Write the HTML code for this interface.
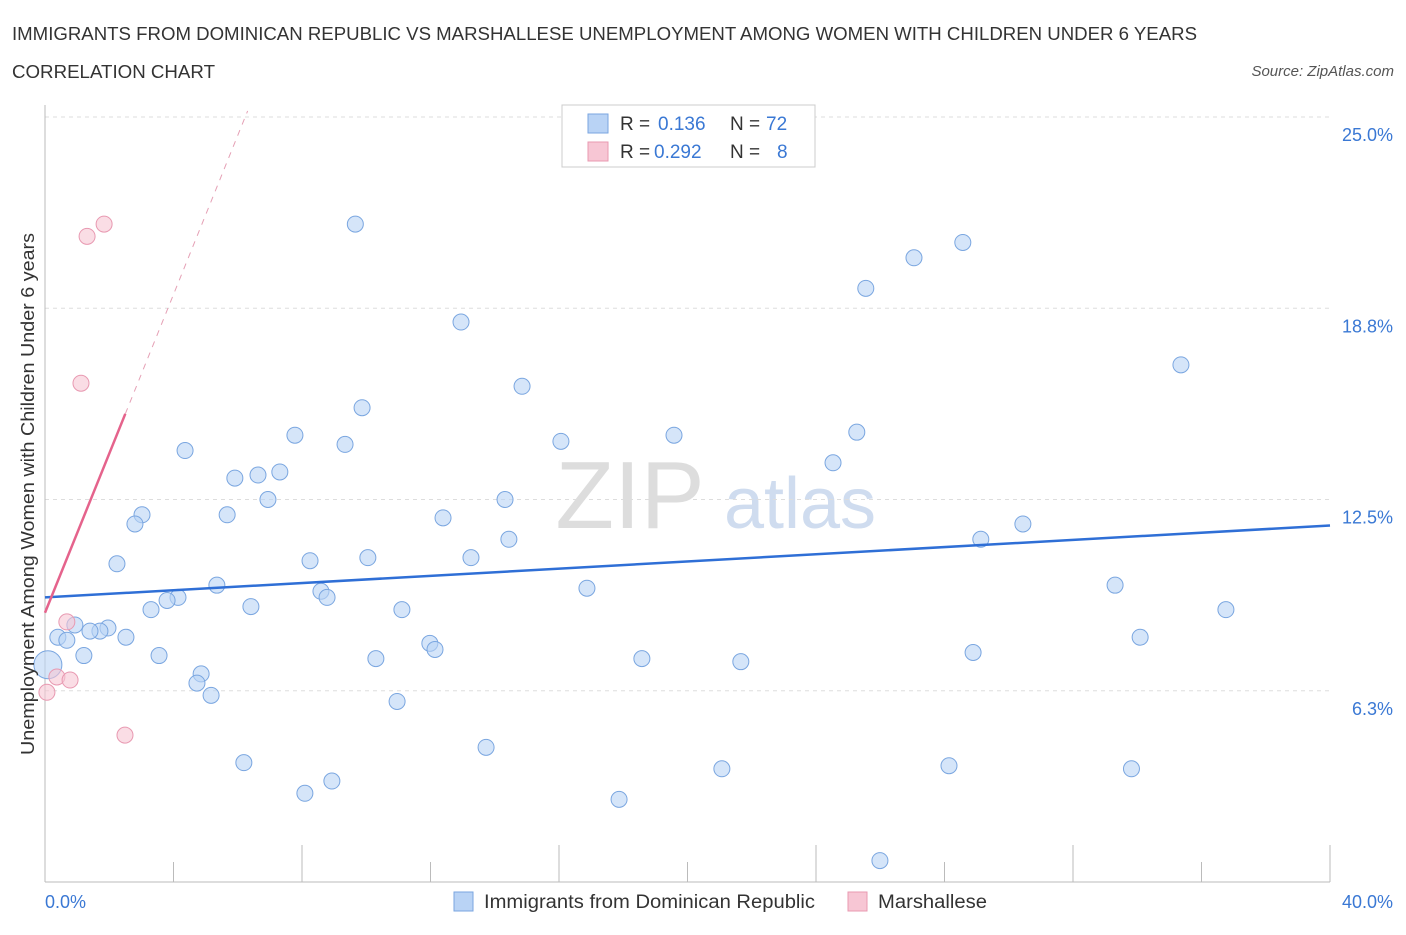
<!DOCTYPE html>
<html><head><meta charset="utf-8"><style>
body{margin:0;background:#fff;font-family:"Liberation Sans",sans-serif;}
svg text{font-family:"Liberation Sans",sans-serif;}
</style></head><body>
<svg id="chart" width="1406" height="930">
<text x="12" y="40" font-size="18" fill="#333" textLength="1185" lengthAdjust="spacingAndGlyphs">IMMIGRANTS FROM DOMINICAN REPUBLIC VS MARSHALLESE UNEMPLOYMENT AMONG WOMEN WITH CHILDREN UNDER 6 YEARS</text>
<text x="12" y="78" font-size="18" fill="#333" textLength="203" lengthAdjust="spacingAndGlyphs">CORRELATION CHART</text>
<text x="1394" y="76" font-size="15" fill="#555" font-style="italic" text-anchor="end">Source: ZipAtlas.com</text>
<text x="630" y="528" font-size="96" fill="#ddd" font-family="Liberation Serif" text-anchor="middle">ZIP</text>
<text x="800" y="528" font-size="72" fill="#cfdcef" text-anchor="middle">atlas</text>
<g id="grid"></g><g id="pts"></g><g id="lines"></g>
<text transform="translate(34,494) rotate(-90)" font-size="18" fill="#333" text-anchor="middle" textLength="522" lengthAdjust="spacingAndGlyphs">Unemployment Among Women with Children Under 6 years</text>
<g>
<rect x="562" y="105" width="253" height="62" fill="#fff" stroke="#ccc"/>
<rect x="588" y="114" width="20" height="19" fill="#b9d3f5" stroke="#7aa6e0"/>
<rect x="588" y="142" width="20" height="19" fill="#f7c6d4" stroke="#e899b1"/>
<text x="620" y="130" font-size="19" fill="#333">R =</text>
<text x="658" y="130" font-size="19" fill="#3a78d4">0.136</text>
<text x="730" y="130" font-size="19" fill="#333">N =</text>
<text x="766" y="130" font-size="19" fill="#3a78d4">72</text>
<text x="620" y="158" font-size="19" fill="#333">R =</text>
<text x="654" y="158" font-size="19" fill="#3a78d4">0.292</text>
<text x="730" y="158" font-size="19" fill="#333">N =</text>
<text x="777" y="158" font-size="19" fill="#3a78d4">8</text>
</g>
<g>
<rect x="454" y="892" width="19" height="19" fill="#b9d3f5" stroke="#7aa6e0"/>
<text x="484" y="908" font-size="19" fill="#333" textLength="331" lengthAdjust="spacingAndGlyphs">Immigrants from Dominican Republic</text>
<rect x="848" y="892" width="19" height="19" fill="#f7c6d4" stroke="#e899b1"/>
<text x="878" y="908" font-size="19" fill="#333" textLength="109" lengthAdjust="spacingAndGlyphs">Marshallese</text>
</g>
</svg>
<script>
const blueX=[9.66,28.57,27.05,25.55,12.95,35.36,14.85,9.87,7.78,19.58,16.06,25.27,9.34,4.36,24.53,7.31,6.63,5.91,6.94,14.32,3.02,5.67,12.39,2.80,30.44,14.44,29.13,8.25,10.05,13.26,2.24,5.35,16.87,33.31,8.59,8.78,4.14,3.80,6.41,11.11,3.30,36.76,0.93,1.96,1.71,1.40,2.52,0.40,0.68,34.09,11.98,12.14,28.89,1.21,3.55,10.30,18.58,21.66,4.86,4.73,5.17,10.96,13.73,6.19,28.14,21.07,33.82,8.93,8.09,17.87,25.99,0.09];
const blueY=[21.5,20.9,20.4,19.4,18.3,16.9,16.2,15.5,14.6,14.6,14.4,14.7,14.3,14.1,13.7,13.4,13.3,13.2,12.5,12.5,12.0,12.0,11.9,11.7,11.7,11.2,11.2,10.5,10.6,10.6,10.4,9.7,9.6,9.7,9.5,9.3,9.3,9.2,9.0,8.9,8.9,8.9,8.4,8.3,8.2,8.2,8.0,8.0,7.9,8.0,7.8,7.6,7.5,7.4,7.4,7.3,7.3,7.2,6.8,6.5,6.1,5.9,4.4,3.9,3.8,3.7,3.7,3.3,2.9,2.7,0.7,7.1];
const pinkX=[1.84,1.31,1.12,0.68,0.37,0.78,0.06,2.49];
const pinkY=[21.5,21.1,16.3,8.5,6.7,6.6,6.2,4.8];
const xTicks=["0.0%","40.0%"];
const yTicks=[6.25,12.5,18.75,25];
const yTickLabels=["6.3%","12.5%","18.8%","25.0%"];
const blueLine=[9.3,11.65];
const pinkLine=[8.8,15.3];
const X=v=>45+v*32.125, Y=v=>882-v*30.6;
const NS="http://www.w3.org/2000/svg";
function mk(p,t,a){const e=document.createElementNS(NS,t);for(const k in a)e.setAttribute(k,a[k]);p.appendChild(e);return e;}
const g=document.getElementById('grid'),pts=document.getElementById('pts'),ln=document.getElementById('lines');
yTicks.forEach((v,i)=>{
 const l=mk(g,'line',{x1:45,x2:1330,y1:Y(v),y2:Y(v),stroke:'#ddd','stroke-dasharray':'4,4'});
 
 
 const t=mk(g,'text',{x:1393,y:Y(v)+24,'font-size':18,fill:'#3a78d4','text-anchor':'end'});t.textContent=yTickLabels[i];
 
 
});
mk(g,'line',{x1:45,x2:45,y1:105,y2:882,stroke:'#bbb'});
mk(g,'line',{x1:45,x2:1330,y1:882,y2:882,stroke:'#bbb'});
for(let i=0;i<=10;i++){mk(g,'line',{x1:X(i*4),x2:X(i*4),y1:882,y2:i%2==0?845:862,stroke:'#bbb'});}
const t0=mk(g,'text',{x:45,y:908,'font-size':18,fill:'#3a78d4'});t0.textContent=xTicks[0];


const t1=mk(g,'text',{x:1393,y:908,'font-size':18,fill:'#3a78d4','text-anchor':'end'});t1.textContent=xTicks[1];


blueX.forEach((x,i)=>{const c=mk(pts,'circle',{cx:X(x),cy:Y(blueY[i]),r:i==71?14:8,fill:'rgba(185,211,245,0.6)',stroke:'#7aa6e0','stroke-width':1});
 
 });
pinkX.forEach((x,i)=>{const c=mk(pts,'circle',{cx:X(x),cy:Y(pinkY[i]),r:8,fill:'rgba(247,198,212,0.6)',stroke:'#e899b1','stroke-width':1});
 
 });
const bl=mk(ln,'line',{x1:X(0),y1:Y(blueLine[0]),x2:X(40),y2:Y(blueLine[1]),stroke:'#2f6fd6','stroke-width':2.5});


const slope=(pinkLine[1]-pinkLine[0])/2.5;
const pl=mk(ln,'line',{x1:X(0),y1:Y(pinkLine[0]),x2:X(2.5),y2:Y(pinkLine[1]),stroke:'#e5638c','stroke-width':2.5});


const xe=(25.2-pinkLine[0])/slope;
const pd=mk(ln,'line',{x1:X(2.5),y1:Y(pinkLine[1]),x2:X(xe),y2:Y(25.2),stroke:'#e5a0b5','stroke-width':1,'stroke-dasharray':'6,6'});


</script>
</body></html>
